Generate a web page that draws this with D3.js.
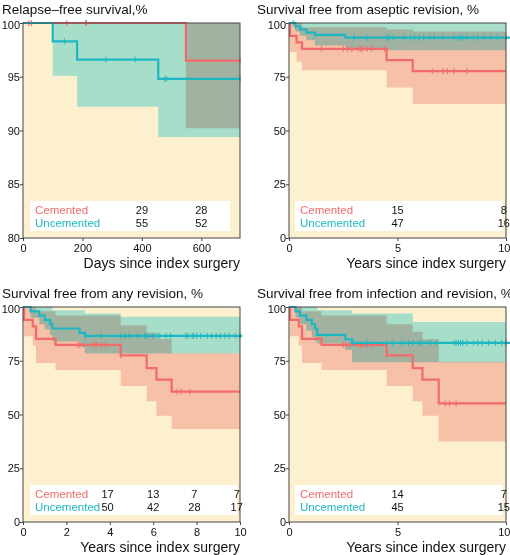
<!DOCTYPE html>
<html><head><meta charset="utf-8">
<script src="https://cdn.jsdelivr.net/npm/d3@7"></script>
<style>
body{margin:0;background:#fff}
svg text{font-family:"Liberation Sans",Arial,sans-serif}
.band{mix-blend-mode:multiply}
</style></head><body>
<svg id="c" width="510" height="555"></svg>
<script>
// ---- panel 1: relapse-free survival (days) ----
var p1CemT = [0, 548], p1CemS = [100, 96.5], p1CemEnd = 730;
var p1CemLo = [100, 90.2], p1CemHi = [100, 100];
var p1CemCens = [20, 28, 147, 211, 213, 730];
var p1UncT = [0, 100, 182, 455], p1UncS = [100, 98.3, 96.6, 94.8], p1UncEnd = 730;
var p1UncLo = [100, 95.1, 92.2, 89.4], p1UncHi = [100, 100, 100, 100];
var p1UncCens = [139, 279, 377, 477, 483, 730];
var p1RiskT = [400, 600], p1RiskCem = [29, 28], p1RiskUnc = [55, 52];

// ---- panel 2: aseptic revision ----
var p2CemT = [0, 0.05, 0.35, 0.6, 4.5, 5.7], p2CemS = [100, 94, 91, 88, 82.7, 77.6], p2CemEnd = 10;
var p2CemLo = [100, 86.5, 82, 78, 78, 70, 62.3], p2CemBT = [0, 0.05, 0.35, 0.6, 1, 4.5, 5.7];
var p2CemHi = [100, 100, 100, 98, 98, 97, 96];
var p2CemCens = [1.5, 2.5, 2.7, 2.9, 3.2, 3.3, 3.4, 3.6, 3.8, 4.4, 6.6, 7.1, 7.3, 7.6, 8.2];
var p2UncT = [0, 0.3, 0.5, 0.8, 1.2, 2.6], p2UncS = [100, 98.5, 97, 95.5, 94.5, 93.2], p2UncEnd = 10.2;
var p2UncLo = [100, 96, 94, 92, 89.5, 87.3], p2UncHi = [100, 100, 100, 100, 100, 100];
var p2UncCens = [0.2, 0.3, 1.2, 3.0, 3.6, 4.5, 4.6, 4.8, 5.3, 5.6, 5.8, 6.0, 6.2, 6.5, 6.7, 7.1, 7.6, 7.8, 7.9, 8.0, 8.2, 8.5, 8.7, 9.0, 9.3, 9.6, 10];
var p2RiskT = [5, 9.9], p2RiskCem = [15, 8], p2RiskUnc = [47, 16];

// ---- panel 3: any revision ----
var p3CemT = [0, 0.05, 0.45, 0.6, 1.5, 4.5, 5.7, 6.15, 6.85], p3CemS = [100, 94, 91, 85.2, 82.4, 77.5, 71.6, 66.2, 60.6], p3CemEnd = 10;
var p3CemLo = [100, 86.4, 82, 74, 70.7, 63.3, 56.2, 49.4, 43.2];
var p3CemHi = [100, 100, 100, 98, 96, 91.5, 88, 85, 78.4];
var p3CemCens = [2.5, 2.6, 2.8, 3.2, 3.3, 3.4, 3.6, 3.8, 4.5, 7.1, 7.3, 7.7];
var p3UncT = [0, 0.35, 0.75, 1.0, 1.25, 1.35, 2.6, 2.85, 4.5], p3UncS = [100, 98, 96, 94, 92, 90, 88, 86.6, 86.6], p3UncEnd = 10.1;
var p3UncLo = [100, 95, 92, 89.5, 87, 84, 81.5, 78.4, 78.4];
var p3UncHi = [100, 100, 100, 100, 100, 98.5, 98.5, 97, 95.5];
var p3UncCens = [2.9, 3.6, 4.5, 4.7, 4.9, 5.3, 5.6, 5.7, 6.0, 6.2, 6.3, 6.6, 6.8, 7.5, 7.6, 7.8, 7.85, 8.0, 8.2, 8.5, 8.7, 8.9, 9.1, 9.3, 9.5, 9.8, 10];
var p3RiskT = [3.9, 6.0, 7.9, 9.85], p3RiskCem = [17, 13, 7, 7], p3RiskUnc = [50, 42, 28, 17];

// ---- panel 4: infection and revision ----
var p4CemT = [0, 0.05, 0.45, 0.6, 1.5, 4.5, 5.7, 6.15, 6.9], p4CemS = [100, 94, 91, 85.2, 82.4, 77.5, 71.6, 66.2, 55.2], p4CemEnd = 10;
var p4CemLo = [100, 86.4, 82, 74, 70.7, 63.3, 56.2, 49.4, 37.5];
var p4CemHi = [100, 100, 100, 98, 96, 92, 88.5, 85, 74.5];
var p4CemCens = [2.5, 2.6, 2.8, 3.2, 3.3, 3.4, 3.6, 3.8, 4.5, 7.2, 7.4, 7.7];
var p4UncT = [0, 0.3, 0.5, 0.8, 1.05, 1.2, 1.3, 2.6, 2.9, 5.7], p4UncS = [100, 98, 96, 94, 92, 90, 87, 85, 83.3, 83.3], p4UncEnd = 10.2;
var p4UncLo = [100, 95, 92, 89, 86, 84, 83, 80, 74.3, 74.3];
var p4UncHi = [100, 100, 100, 100, 100, 100, 98.5, 98.5, 97, 93];
var p4UncCens = [3.0, 3.6, 4.5, 4.8, 5.2, 5.5, 5.7, 6.0, 6.1, 6.5, 6.8, 7.6, 7.7, 7.8, 7.9, 8.0, 8.2, 8.5, 8.7, 8.9, 9.2, 9.5, 9.8, 10];
var p4RiskT = [5, 9.9], p4RiskCem = [14, 7], p4RiskUnc = [45, 15];

var panels = [
  {title: "Relapse\u2013free survival,%", xlab: "Days since index surgery", x0: 23, y0: 23, tx: 2, xmax: 730, xticks: [0, 200, 400, 600], ymin: 80, yticks: [80, 85, 90, 95, 100],
   cem: [p1CemT, p1CemS, p1CemEnd, p1CemT, p1CemLo, p1CemHi, p1CemCens], unc: [p1UncT, p1UncS, p1UncEnd, p1UncT, p1UncLo, p1UncHi, p1UncCens],
   risk: [p1RiskT, p1RiskCem, p1RiskUnc], box: [30, 230]},
  {title: "Survival free from aseptic revision, %", xlab: "Years since index surgery", x0: 289, y0: 23, tx: 257, xmax: 10, xticks: [0, 5, 10], ymin: 0, yticks: [0, 25, 50, 75, 100],
   cem: [p2CemT, p2CemS, p2CemEnd, p2CemBT, p2CemLo, p2CemHi, p2CemCens], unc: [p2UncT, p2UncS, p2UncEnd, p2UncT, p2UncLo, p2UncHi, p2UncCens],
   risk: [p2RiskT, p2RiskCem, p2RiskUnc], box: [295, 503]},
  {title: "Survival free from any revision, %", xlab: "Years since index surgery", x0: 23, y0: 307, tx: 2, xmax: 10, xticks: [0, 2, 4, 6, 8, 10], ymin: 0, yticks: [0, 25, 50, 75, 100],
   cem: [p3CemT, p3CemS, p3CemEnd, p3CemT, p3CemLo, p3CemHi, p3CemCens], unc: [p3UncT, p3UncS, p3UncEnd, p3UncT, p3UncLo, p3UncHi, p3UncCens],
   risk: [p3RiskT, p3RiskCem, p3RiskUnc], box: [30, 237]},
  {title: "Survival free from infection and revision, %", xlab: "Years since index surgery", x0: 289, y0: 307, tx: 257, xmax: 10, xticks: [0, 5, 10], ymin: 0, yticks: [0, 25, 50, 75, 100],
   cem: [p4CemT, p4CemS, p4CemEnd, p4CemT, p4CemLo, p4CemHi, p4CemCens], unc: [p4UncT, p4UncS, p4UncEnd, p4UncT, p4UncLo, p4UncHi, p4UncCens],
   risk: [p4RiskT, p4RiskCem, p4RiskUnc], box: [295, 503]}
];

var W = 217, H = 215;
var RED = "#f26b6b", TEAL = "#1db7c2";
var svg = d3.select("#c");

panels.forEach(function(p) {
  var g = svg.append("g").attr("transform", "translate(" + p.x0 + "," + p.y0 + ")");
  var x = d3.scaleLinear().domain([0, p.xmax]).range([0, W]);
  var y = d3.scaleLinear().domain([p.ymin, 100]).range([H, 0]);

  g.append("rect").attr("width", W).attr("height", H).attr("fill", "#fdf0cf");

  function band(s, col) {
    var pts = s[3].map(function(t, i) { return [t, s[4][i], s[5][i]]; });
    pts.push([p.xmax, s[4][s[4].length - 1], s[5][s[5].length - 1]]);
    g.append("path").attr("class", "band").attr("fill", col)
      .attr("d", d3.area().curve(d3.curveStepAfter)
        .x(function(d) { return x(d[0]); }).y0(function(d) { return y(Math.max(d[1], p.ymin)); }).y1(function(d) { return y(d[2]); })(pts));
  }
  band(p.cem, "#f8cdcd");
  band(p.unc, "#a7ecf8");

  // risk table box
  g.append("rect").attr("x", p.box[0] - p.x0).attr("width", p.box[1] - p.box[0])
    .attr("y", H - 37).attr("height", 30).attr("fill", "#fff");

  function curve(s, col) {
    var pts = s[0].map(function(t, i) { return [t, s[1][i]]; });
    pts.push([s[2], s[1][s[1].length - 1]]);
    g.append("path").attr("fill", "none").attr("stroke", col).attr("stroke-width", 2.2)
      .attr("d", d3.line().curve(d3.curveStepAfter).x(function(d) { return x(d[0]); }).y(function(d) { return y(d[1]); })(pts));
    function at(t) { var k = d3.bisectRight(s[0], t); return y(k ? s[1][k - 1] : 100); }
    g.selectAll(null).data(s[6]).enter().append("line")
      .attr("stroke", col).attr("stroke-width", 1)
      .attr("x1", function(t) { return x(t); }).attr("x2", function(t) { return x(t); })
      .attr("y1", function(t) { return at(t) - 3; })
      .attr("y2", function(t) { return at(t) + 3; });
  }
  curve(p.cem, RED);
  curve(p.unc, TEAL);

  g.append("rect").attr("width", W).attr("height", H).attr("fill", "none").attr("stroke", "#444").attr("stroke-width", 1);

  var xa = g.append("g").attr("transform", "translate(0," + H + ")")
    .call(d3.axisBottom(x).tickValues(p.xticks).tickSize(3).tickSizeOuter(0));
  var ya = g.append("g").call(d3.axisLeft(y).tickValues(p.yticks).tickSize(3).tickSizeOuter(0));
  [xa, ya].forEach(function(a) {
    a.select(".domain").remove();
    a.selectAll("text").attr("font-size", 11).attr("fill", "#111");
    a.selectAll("line").attr("stroke", "#444");
  });
  ya.selectAll("text").attr("x", -3);
  ya.selectAll(".tick").filter(function(d) { return d === 100; }).select("text").attr("dy", "0.5em");
  if (p.x0 > 100) {
    xa.selectAll(".tick").filter(function(d) { return d === 10; }).select("text").attr("text-anchor", "end").attr("x", 4);
  }

  g.append("text").attr("x", p.tx - p.x0).attr("y", -9).attr("font-size", 13.5).attr("fill", "#111").text(p.title);
  g.append("text").attr("x", W).attr("y", H + 30).attr("text-anchor", "end").attr("font-size", 14).attr("fill", "#111").text(p.xlab);

  var bx = p.box[0] - p.x0;
  g.append("text").attr("x", bx + 5).attr("y", H - 24).attr("font-size", 11.5).attr("fill", RED).text("Cemented");
  g.append("text").attr("x", bx + 5).attr("y", H - 11).attr("font-size", 11.5).attr("fill", TEAL).text("Uncemented");
  p.risk[0].forEach(function(t, i) {
    g.append("text").attr("x", x(t)).attr("y", H - 24).attr("text-anchor", "middle").attr("font-size", 11).attr("fill", "#111").text(p.risk[1][i]);
    g.append("text").attr("x", x(t)).attr("y", H - 11).attr("text-anchor", "middle").attr("font-size", 11).attr("fill", "#111").text(p.risk[2][i]);
  });
});
</script>
</body></html>
